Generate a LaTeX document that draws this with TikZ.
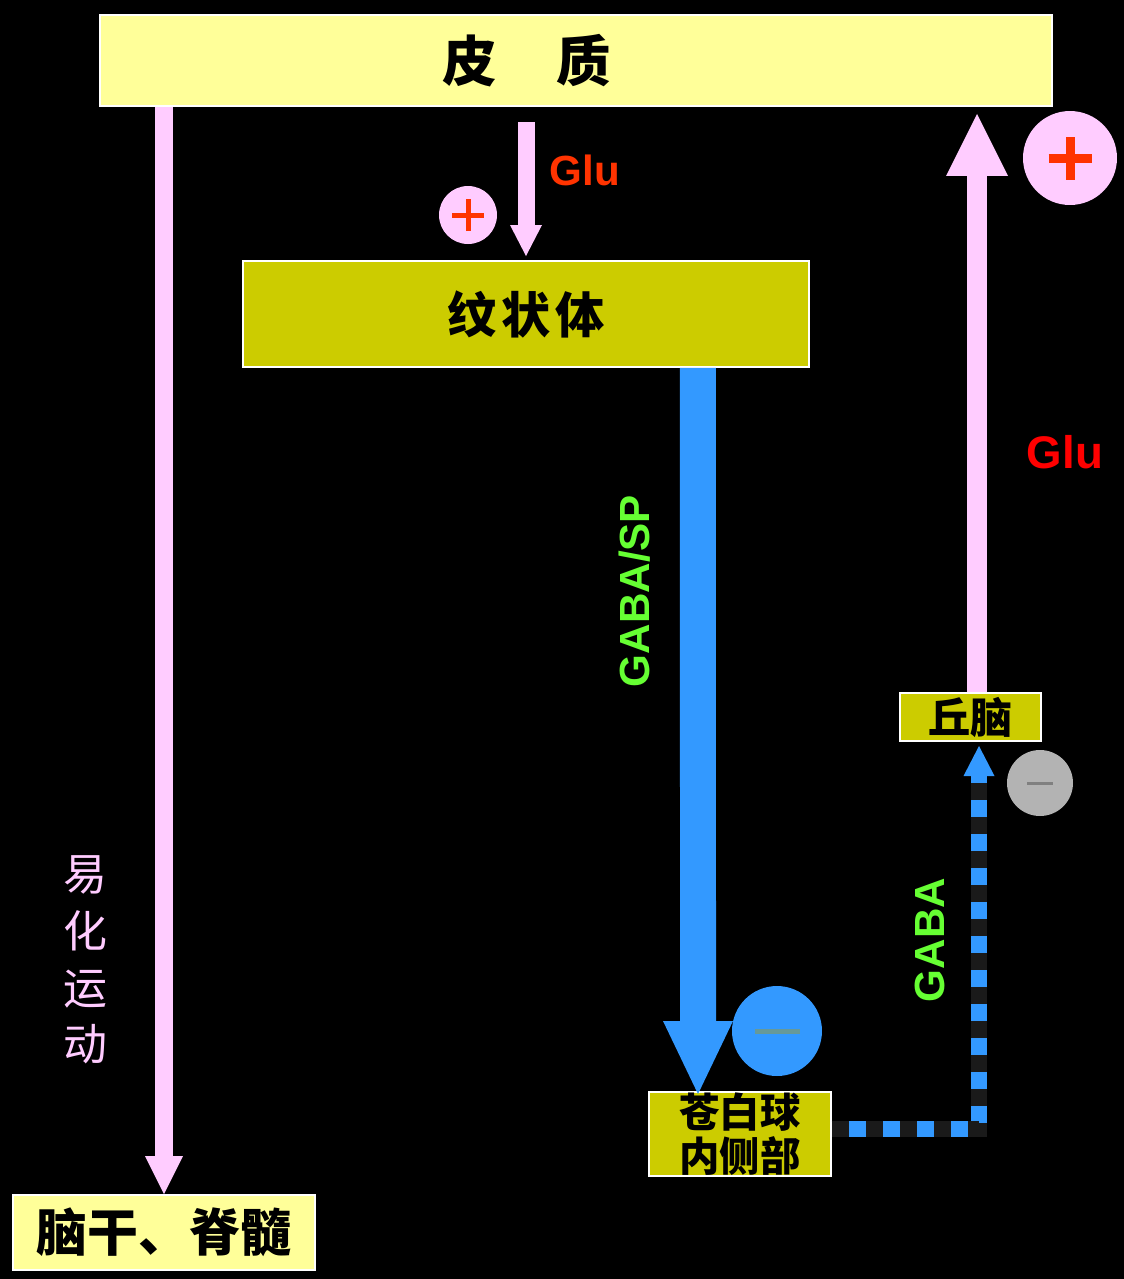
\documentclass[tikz,border=0pt]{standalone}
\usepackage{fontspec}
\setmainfont{Liberation Sans}
\newfontfamily\cjk{Noto Sans CJK SC}
\usetikzlibrary{positioning, arrows.meta, backgrounds}
\definecolor{cortexfill}{HTML}{FFFF99}
\definecolor{nucleus}{HTML}{CCCC00}
\definecolor{excite}{HTML}{FFCCFF}
\definecolor{inhib}{HTML}{3399FF}
\definecolor{gluorange}{HTML}{FF3300}
\definecolor{gabagreen}{HTML}{66FF33}
\definecolor{dashdark}{HTML}{1A1A1A}
\definecolor{minusgrey}{HTML}{B3B3B3}
\definecolor{minusbar}{HTML}{669999}

\begin{document}
\begin{tikzpicture}[
    x=0.02cm, y=-0.02cm,
    box/.style={
        draw=white,
        line width=0.04cm,
        inner sep=0pt,
        align=center,
        text=black
    },
    lightbox/.style={box, fill=cortexfill},
    nucbox/.style={box, fill=nucleus},
    boxtext/.style={font=\cjk\bfseries\fontsize{#1}{#1}\selectfont, inner sep=0pt, align=center},
    excitearrow/.style={draw=excite},
    chem/.style={font=\bfseries\fontsize{#1}{#1}\selectfont, inner sep=0pt},
    pluscircle/.style={circle, fill=excite, inner sep=0pt, minimum size=#1},
    plusbar/.style={draw=gluorange, line width=#1},
    minuscircle/.style={circle, inner sep=0pt, minimum size=#1}
]

% background and page size
\fill[black] (0,0) rectangle (1124,1279);

% boxes
\node[lightbox, minimum width=19.04cm, minimum height=1.82cm] (cortex) at (576,60.5) {};
\node[boxtext=31] (cortexname) at (527,61) {皮\hspace{1.2cm}质};
\node[nucbox, minimum width=11.32cm, minimum height=2.12cm, font=\cjk\bfseries\fontsize{28}{28}\selectfont] (striatum) at (526,314) {纹\hspace{0.1cm}状\hspace{0.1cm}体};
\node[lightbox, minimum width=6.04cm, minimum height=1.5cm, font=\cjk\bfseries\fontsize{29}{29}\selectfont] (brainstem) at (164,1232.5) {脑干、脊髓};
\node[nucbox, minimum width=3.64cm, minimum height=1.68cm, font=\cjk\bfseries\fontsize{23}{25}\selectfont] (gpi) at (740,1134) {苍白球\\内侧部};
\node[nucbox, minimum width=2.82cm, minimum height=0.96cm, font=\cjk\bfseries\fontsize{24}{24}\selectfont] (thalamus) at (970.5,717) {丘脑};

% cortex -> brainstem
\draw[excitearrow, line width=0.36cm, -{Triangle[width=0.76cm, length=0.76cm, line width=0pt]}]
    (cortex.south -| brainstem.north) -- (brainstem.north);
\node[font=\cjk\fontsize{25}{32.3}\selectfont, text=excite, align=center, inner sep=0pt] (facil) at (85,960) {易\\化\\运\\动};

% cortex -> striatum
\draw[excitearrow, line width=0.34cm, -{Triangle[width=0.64cm, length=0.62cm, line width=0pt]}, shorten >=0.08cm]
    ([yshift=-0.3cm]cortex.south -| striatum.north) -- (striatum.north);
\node[chem=24, text=gluorange] (glutop) at (585,170) {Glu};
\node[pluscircle=1.16cm] (plustop) at (468,215) {};
\draw[plusbar=0.1cm] ([xshift=-0.32cm]plustop.center) -- ([xshift=0.32cm]plustop.center);
\draw[plusbar=0.1cm] ([yshift=-0.32cm]plustop.center) -- ([yshift=0.32cm]plustop.center);

% striatum -> GPi
\draw[inhib, line width=0.72cm, -{Triangle[width=1.4cm, length=1.46cm, line width=0pt]}]
    ([xshift=3.44cm]striatum.south) -- ([xshift=-0.84cm, yshift=-0.06cm]gpi.north);
\node[chem=24, text=gabagreen, rotate=90] (gabasp) at (635,591) {GABA/SP};
\node[minuscircle=1.8cm, fill=inhib] (minusblue) at (777,1031) {};
\draw[minusbar, line width=0.1cm] ([xshift=-0.45cm]minusblue.center) -- ([xshift=0.45cm]minusblue.center);

% GPi -> thalamus
\coordinate (bend) at (979,1129);
\draw[inhib, line width=0.32cm, line join=miter, -{Triangle[width=0.62cm, length=0.6cm, line width=0pt]}, shorten >=0.08cm]
    (gpi.east |- bend) -- (bend) -- (bend |- thalamus.south);
\draw[dashdark, line width=0.32cm, line join=miter, dash pattern=on 0.34cm off 0.34cm, shorten >=0.8cm]
    (gpi.east |- bend) -- (bend) -- (bend |- thalamus.south);
\node[chem=24, text=gabagreen, rotate=90] (gaba) at (930,940) {GABA};
\node[minuscircle=1.32cm, fill=minusgrey] (minusgrey) at (1040,783) {};
\draw[gray, line width=0.06cm] ([xshift=-0.26cm]minusgrey.center) -- ([xshift=0.26cm]minusgrey.center);

% thalamus -> cortex
\draw[excitearrow, line width=0.4cm, -{Triangle[width=1.24cm, length=1.24cm, line width=0pt]}, shorten >=0.14cm]
    ([xshift=0.13cm]thalamus.north) -- ([xshift=0.13cm]thalamus.north |- cortex.south);
\node[chem=26, text=red] (glurise) at (1065,452) {Glu};
\node[pluscircle=1.88cm] (plusrise) at (1070,158) {};
\draw[plusbar=0.18cm] ([xshift=-0.43cm]plusrise.center) -- ([xshift=0.43cm]plusrise.center);
\draw[plusbar=0.18cm] ([yshift=-0.43cm]plusrise.center) -- ([yshift=0.43cm]plusrise.center);

\end{tikzpicture}
\end{document}
